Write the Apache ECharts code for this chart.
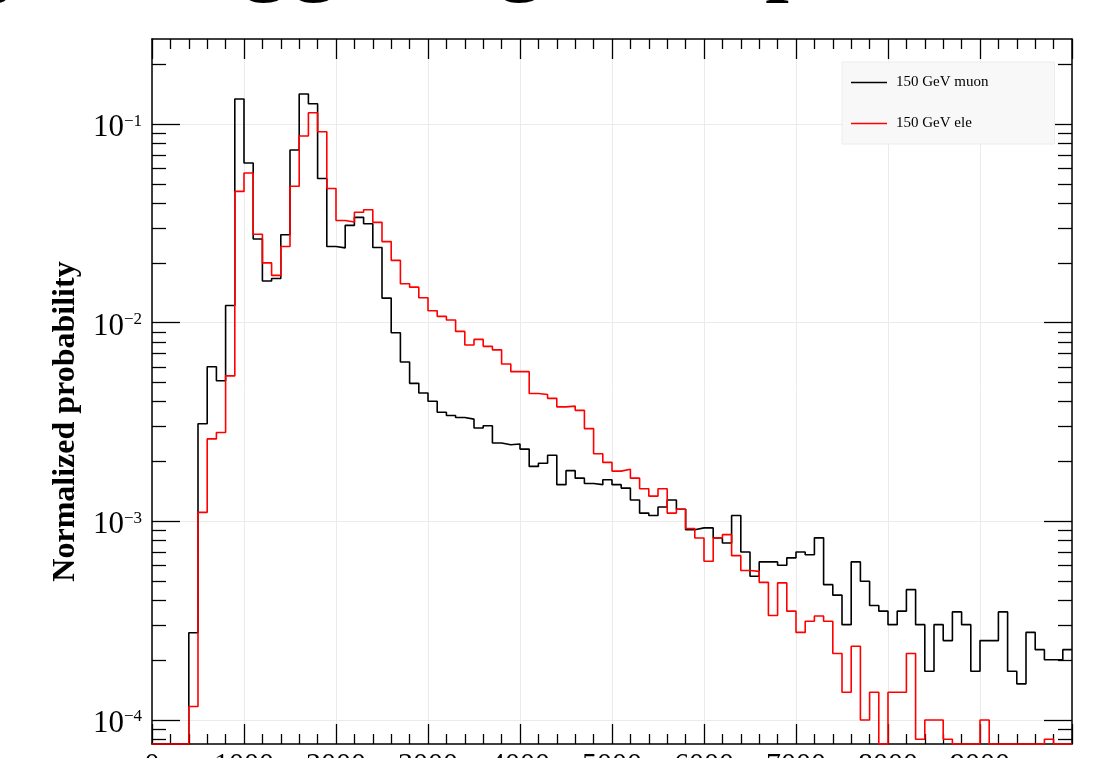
<!DOCTYPE html>
<html><head><meta charset="utf-8">
<script src="https://cdn.jsdelivr.net/npm/echarts@6/dist/echarts.min.js"></script>
<style>html,body{margin:0;padding:0;background:#fff}#c{width:1103px;height:758px}</style>
</head><body><div id="c"></div>
<script>
// ---------------- data ----------------
const binWidth = 100;
const binCount = 100;
const binStarts = Array.from({length: binCount}, (_, i) => i * binWidth); // 0 .. 9900 (bin left edges)

const muon = [
  0, 0, 0, 0, 2.75e-4, 3.1e-3, 6.0e-3, 5.1e-3, 0.0122, 0.1337,
  0.0637, 0.0264, 0.0162, 0.0167, 0.0277, 0.074, 0.1416, 0.1265, 0.0532, 0.0242,
  0.0238, 0.0309, 0.0339, 0.0315, 0.0239, 0.0133, 0.0089, 0.00634, 0.00495, 0.00443,
  0.00402, 0.00354, 0.00341, 0.00333, 0.00327, 0.00295, 0.00303, 0.00248, 0.00243, 0.00245,
  0.00231, 0.00189, 0.00196, 0.00215, 0.00153, 0.0018, 0.00165, 0.00155, 0.00153, 0.00162,
  0.00153, 0.00147, 0.00128, 0.0011, 0.00107, 0.00118, 0.00128, 0.00115, 0.000908, 0.000927,
  0.000927, 0.000824, 0.000778, 0.00107, 0.000701, 0.000529, 0.000625, 0.000625, 0.000601, 0.000655,
  0.000701, 0.000679, 0.000826, 0.00048, 0.000425, 0.000302, 0.000625, 0.000499, 0.000377, 0.000353,
  0.000302, 0.000353, 0.000453, 0.000302, 0.000176, 0.000302, 0.000251, 0.00035, 0.000302, 0.000176,
  0.000251, 0.000251, 0.00035, 0.000176, 0.000152, 0.000276, 0.000226, 0.000201, 0.000201, 0.000226
];

const ele = [
  0, 0, 0, 0, 1.17e-4, 0.00111, 0.0026, 0.0028, 0.0054, 0.0458,
  0.0567, 0.0279, 0.02, 0.0173, 0.0242, 0.0486, 0.087, 0.114, 0.0915, 0.0474,
  0.0327, 0.0321, 0.036, 0.037, 0.032, 0.0256, 0.0206, 0.0157, 0.0151, 0.01336,
  0.01148, 0.01076, 0.01032, 0.00904, 0.00772, 0.00824, 0.0076, 0.0073, 0.0062, 0.00567,
  0.00567, 0.0044, 0.00435, 0.00416, 0.00377, 0.0038, 0.00362, 0.00293, 0.00219, 0.00198,
  0.00179, 0.00183, 0.00165, 0.00146, 0.00134, 0.00146, 0.0011, 0.00115, 0.00092, 0.000824,
  0.00063, 0.000824, 0.000857, 0.000672, 0.000566, 0.00056, 0.000493, 0.000336, 0.00049, 0.000353,
  0.000276, 0.000314, 0.000334, 0.000314, 0.000216, 0.000138, 0.000235, 0.0001, 0.000138, 0,
  0.000138, 0.000138, 0.000216, 0.00008, 0.0001, 0.0001, 0.00008, 0, 0, 0,
  0.0001, 0, 0, 0, 0, 0, 0, 0.00008, 0, 0
];

const seriesNames = ['150 GeV muon', '150 GeV ele'];
const seriesColors = ['#000000', '#ff0000'];
const yMajorTicks = [1e-4, 1e-3, 1e-2, 1e-1];
const yMinorTicks = [8e-5, 9e-5,
  2e-4, 3e-4, 4e-4, 5e-4, 6e-4, 7e-4, 8e-4, 9e-4,
  2e-3, 3e-3, 4e-3, 5e-3, 6e-3, 7e-3, 8e-3, 9e-3,
  2e-2, 3e-2, 4e-2, 5e-2, 6e-2, 7e-2, 8e-2, 9e-2,
  2e-1];
const xMin = 0, xMax = 10000, xMajorStep = 1000;
const yMin = 7.57e-5, yMax = 0.268;
const titleText = 'Energy - Triggering Comparison';
const yTitle = 'Normalized probability';

// ---------------- build ----------------
function histSteps(vals) {
  const pts = vals.map((v, i) => [binStarts[i], v > 0 ? v : yMin]);
  const last = vals[vals.length - 1];
  pts.push([binStarts[binStarts.length - 1] + binWidth, last > 0 ? last : yMin]);
  return pts;
}

const serif = 'Liberation Serif';
const axisColor = '#000';

function xAxisDef(pos, showLabel, showSplit) {
  return {
    type: 'value', position: pos, min: xMin, max: xMax, interval: xMajorStep,
    axisLine: {show: true, onZero: false, lineStyle: {color: axisColor, width: 1.5}},
    axisTick: {show: true, inside: true, length: 20, lineStyle: {color: axisColor, width: 1.3}},
    minorTick: {show: true, splitNumber: 5, length: 10, lineStyle: {color: axisColor, width: 1.3}},
    axisLabel: {show: showLabel, fontFamily: serif, fontSize: 30, color: '#000', margin: 6,
      showMaxLabel: false, formatter: v => String(v)},
    splitLine: {show: showSplit, lineStyle: {color: '#ebebeb', width: 1}},
    minorSplitLine: {show: false}
  };
}

function yAxisDef(pos, ticks, len, showLine, showLabel, showSplit) {
  return {
    type: 'log', logBase: 10, position: pos, offset: 0, min: yMin, max: yMax,
    axisLine: {show: showLine, onZero: false, lineStyle: {color: axisColor, width: 1.5}},
    axisTick: {show: true, inside: true, length: len, customValues: ticks, lineStyle: {color: axisColor, width: 1.3}},
    minorTick: {show: false},
    axisLabel: {
      show: showLabel, customValues: yMajorTicks, margin: 10, padding: [8, 0, 0, 0],
      formatter: v => '{b|10}{s|\u2212' + Math.abs(Math.round(Math.log10(v))) + '}',
      rich: {
        b: {fontFamily: serif, fontSize: 31, color: '#000'},
        s: {fontFamily: serif, fontSize: 17, color: '#000', verticalAlign: 'top'}
      }
    },
    splitLine: {show: showSplit, lineStyle: {color: '#ebebeb', width: 1}}
  };
}

const yAxes = [
  Object.assign(yAxisDef('left', yMajorTicks, 28, true, true, true), {
    name: yTitle, nameLocation: 'middle', nameGap: 41,
    nameTextStyle: {fontFamily: serif, fontSize: 32, fontWeight: 'bold', color: '#000', padding: [0, 60, 0, 0]}
  }),
  yAxisDef('left', yMinorTicks, 14, false, false, false),
  yAxisDef('right', yMajorTicks, 28, true, false, false),
  yAxisDef('right', yMinorTicks, 14, false, false, false)
];

const option = {
  animation: false,
  backgroundColor: '#ffffff',
  title: {
    text: titleText, left: -254, top: -99,
    textStyle: {fontFamily: serif, fontSize: 100, fontWeight: 'normal', color: '#000'}
  },
  grid: {left: 152, right: 31, top: 39, bottom: 14, containLabel: false, outerBoundsMode: 'none'},
  legend: {
    data: seriesNames, orient: 'vertical', left: 842, top: 62,
    icon: 'rect', itemWidth: 36, itemHeight: 1.6, itemGap: 26,
    padding: [13, 66, 13, 9],
    backgroundColor: '#f8f8f8', borderColor: '#ececec', borderWidth: 1,
    textStyle: {fontFamily: serif, fontSize: 15, lineHeight: 14, color: '#000', padding: [0, 0, 0, 4]}
  },
  xAxis: [xAxisDef('bottom', true, true), xAxisDef('top', false, false)],
  yAxis: yAxes,
  series: [muon, ele].map((vals, k) => ({
    name: seriesNames[k], type: 'line', step: 'end', symbol: 'none', showSymbol: false,
    xAxisIndex: 0, yAxisIndex: 0, clip: false, z: 3 + k,
    lineStyle: {color: seriesColors[k], width: 1.6},
    itemStyle: {color: seriesColors[k]},
    data: histSteps(vals)
  }))
};

const chart = echarts.init(document.getElementById('c'), null, {renderer: 'canvas'});
chart.setOption(option);
</script>
</body></html>
